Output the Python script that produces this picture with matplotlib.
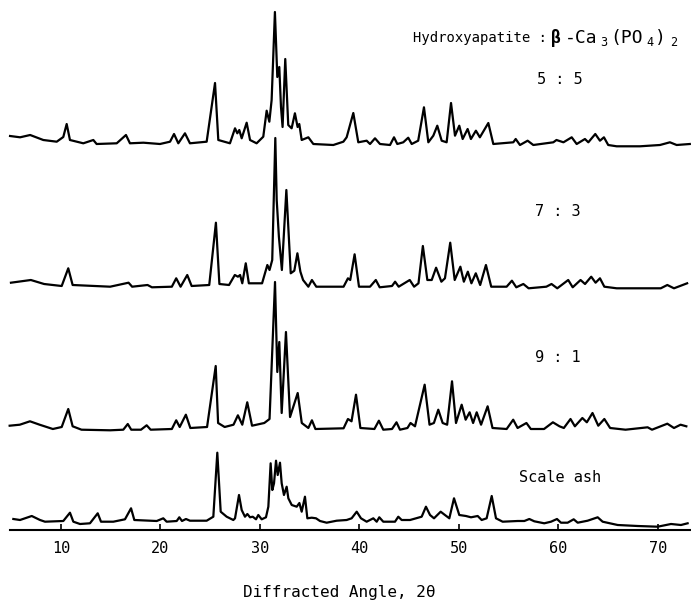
import matplotlib
matplotlib.use("Agg")
import matplotlib.pyplot as plt

# X-ray diffraction traces: angle (2theta, deg) and height above each trace's baseline
ang_55 = [4.88, 5.89, 6.90, 8.22, 9.57, 10.23, 10.57, 10.90, 12.24, 13.25, 13.58, 15.6, 16.53, 16.93, 18.28,
          19.95, 20.96, 21.36, 21.79, 22.46, 22.96, 24.64, 25.48, 25.81, 26.98, 27.49, 27.72, 27.92, 28.16, 28.66,
          29.0, 29.66, 30.33, 30.67, 30.94, 31.17, 31.5, 31.74, 31.94, 32.11, 32.27, 32.54, 32.84, 33.18, 33.51,
          33.78, 33.95, 34.19, 34.86, 35.36, 37.37, 38.38, 38.71, 39.38, 39.88, 40.72, 41.06, 41.56, 42.06, 43.07,
          43.47, 43.8, 44.4, 44.9, 45.25, 45.9, 46.48, 46.92, 47.42, 47.82, 48.26, 48.76, 49.2, 49.6, 50.03,
          50.37, 50.87, 51.2, 51.7, 52.1, 52.95, 53.45, 55.46, 55.7, 56.13, 56.9, 57.47, 59.48, 59.8, 60.5,
          61.33, 61.83, 62.66, 63.0, 63.7, 64.17, 64.57, 65.0, 65.85, 68.19, 70.2, 71.2, 71.88, 73.2]
int_55 = [9, 7.7, 10, 5, 3.3, 8, 21, 5, 1.7, 5, 1, 1.7, 10, 1.7, 2.3,
          1, 3.3, 11, 1.7, 11.7, 1.7, 3.3, 62, 5, 1.7, 16.7, 11.7, 15, 6.7, 22.3,
          5, 1.7, 8.3, 34.3, 23.3, 45, 133, 68, 78, 38, 18, 86, 20, 16.7, 31.7,
          18, 21, 5, 7.7, 1, 0, 3.3, 7.7, 32, 2.7, 4.3, 1, 6.7, 1, 0,
          7.7, 1, 2.7, 7.3, 1, 4.3, 37.7, 2.7, 9.3, 19.3, 4.3, 2.7, 42, 9.3, 19.3,
          6, 16, 6, 14.3, 7.7, 22, 1, 2.7, 6, 0, 4.3, 0, 2.7, 5, 2.7,
          7.7, 1, 6, 2.7, 11, 4.3, 7.7, 0, -1.3, -1.3, 0, 2.7, 0, 1]

ang_73 = [4.97, 6.97, 8.30, 10.07, 10.73, 11.17, 14.94, 16.79, 17.15, 18.70, 19.14, 21.14, 21.58, 22.02, 22.69,
          23.13, 24.90, 25.57, 25.92, 26.89, 27.47, 27.78, 28.0, 28.22, 28.57, 28.88, 30.21, 30.74, 30.96, 31.23,
          31.54, 31.68, 31.90, 32.20, 32.65, 33.09, 33.45, 33.76, 34.06, 34.33, 34.86, 35.22, 35.66, 38.40, 38.84,
          39.07, 39.51, 39.95, 41.06, 41.64, 42.03, 43.27, 43.58, 43.94, 45.05, 45.49, 45.93, 46.37, 46.82, 47.26,
          47.70, 48.23, 48.59, 49.12, 49.57, 50.14, 50.49, 50.89, 51.25, 51.69, 52.13, 52.71, 53.24, 54.79, 55.32,
          55.76, 56.47, 57.0, 58.78, 59.30, 59.88, 60.98, 61.43, 62.22, 62.67, 63.29, 63.73, 64.17, 64.61, 65.85,
          70.28, 70.94, 71.61, 72.93]
int_73 = [1.3, 4, 0, -2, 15.7, -1, -2.7, 1.3, -2.7, -1, -3.3, -2.7, 5.7, -2.7, 9,
          -2, -1, 61.3, 0, -1, 9, 7.3, 9, 0.7, 20.7, 0.7, 0.7, 19, 14, 24,
          146, 84, 47.3, 14, 94, 10.7, 13.3, 30.7, 12.3, 4, -2.7, 4, -2.7, -2.7, 5.7,
          4, 29.7, -2.7, -2.7, 4, -3.3, -2, 2.3, -2.7, 4, -2.7, 0.7, 38, 4, 4,
          16.3, 2.3, 5.7, 41.3, 4, 17.3, 2.3, 12.3, 0.7, 10.7, -1, 19, -2.7, -2.7, 3.3,
          -3.3, 0, -4.3, -2.7, 0, -4.3, 4, -3.3, 4, 0, 7.3, 1.3, 5.7, -2.7, -4.3,
          -4.3, -1, -4.3, 0.7]

ang_91 = [4.84, 5.86, 6.88, 7.85, 9.18, 10.07, 10.73, 11.17, 12.06, 14.94, 16.26, 16.71, 17.06, 18.04, 18.61,
          19.01, 21.14, 21.58, 21.93, 22.55, 23.0, 24.68, 25.55, 25.79, 26.45, 27.34, 27.78, 28.22, 28.72, 29.2,
          30.43, 30.96, 31.51, 31.74, 31.94, 32.18, 32.61, 33.02, 33.79, 34.2, 34.86, 35.22, 35.57, 38.40, 38.84,
          39.2, 39.65, 40.09, 41.5, 41.95, 42.39, 43.27, 43.72, 44.07, 44.82, 45.13, 45.58, 46.55, 47.04, 47.48,
          47.92, 48.36, 48.81, 49.3, 49.7, 50.27, 50.67, 51.07, 51.42, 51.78, 52.22, 52.88, 53.37, 54.79, 55.45,
          55.89, 56.78, 57.22, 58.55, 59.44, 60.1, 60.54, 61.21, 61.65, 62.4, 62.85, 63.42, 64.0, 64.61, 65.19,
          66.74, 68.96, 69.4, 70.94, 71.61, 72.27, 72.85]
int_91 = [3.3, 4.3, 7.7, 4.3, 0, 2, 20, 2.7, -0.7, -1.3, -0.7, 5, -0.7, -0.7, 3.7,
          -0.7, 0, 8.7, 2, 14.3, 1, 2, 63, 6, 2, 4.3, 13.7, 4.3, 26.7, 3.3,
          6, 10, 147, 57, 87, 16, 97, 12, 36, 6, 1, 8.7, 0, 0.7, 10,
          7.7, 34.3, 1, 0, 8.3, -0.7, 0, 6.7, -0.7, 1, 6, 2.7, 44.3, 4.3, 6,
          19.3, 6, 4.3, 47.7, 6, 24.3, 9.3, 16.7, 6, 16.7, 4.3, 22.7, 1, 0, 9.3,
          1, 6, 0, 0, 6.7, 2.7, 1, 10, 2.7, 11, 6.7, 16, 3.3, 10, 1,
          -0.7, 1.7, -0.7, 5.3, 1, 4.3, 2.7]

ang_ash = [5.21, 5.88, 7.06, 7.89, 8.39, 10.23, 10.9, 11.24, 11.91, 12.91, 13.69, 14.02, 15.26, 16.43, 17.04,
           17.37, 19.62, 20.28, 20.62, 21.63, 21.89, 22.16, 22.56, 22.96, 24.64, 25.31, 25.71, 26.05, 26.65, 27.32,
           27.49, 27.89, 28.16, 28.49, 28.73, 29.0, 29.27, 29.6, 29.83, 30.17, 30.6, 30.84, 31.07, 31.24, 31.41,
           31.61, 31.78, 32.01, 32.18, 32.41, 32.68, 32.85, 33.19, 33.69, 33.96, 34.19, 34.52, 34.76, 35.2, 35.63,
           36.03, 36.7, 37.71, 38.71, 39.21, 39.72, 40.15, 40.72, 41.39, 41.73, 41.99, 42.39, 43.57, 43.9, 44.24,
           45.08, 46.25, 46.68, 47.09, 47.49, 48.16, 48.59, 49.03, 49.5, 50.03, 50.7, 51.21, 51.88, 52.28, 52.78,
           53.29, 53.72, 54.39, 55.9, 56.57, 57.07, 57.57, 58.57, 59.25, 59.85, 60.25, 60.92, 61.53, 61.93, 62.93,
           63.94, 64.44, 65.95, 67.96, 69.97, 71.31, 72.31, 72.98]
int_ash = [2, 1, 5, 1, -0.7, 0, 8.3, -0.7, -3, -2.3, 7.7, -0.7, -0.7, 1.7, 12.7,
           1, 0, 2.7, -0.7, 0, 3.7, 0, 2, 0.3, 0.3, 4.3, 68.3, 9.3, 4.3, 1,
           2.7, 26, 11, 4.3, 7, 3.7, 4.3, 1.7, 6, 1.7, 3.7, 14.3, 57.7, 31, 37.7,
           60.3, 46, 58.3, 37.7, 26, 34.3, 22.7, 16, 14.3, 18, 9.3, 24.3, 2.7, 3.3, 2.7,
           0, -1.7, 0.3, 1, 2.7, 9.3, 2.7, -0.7, 2.7, -0.7, 3.7, -0.7, -0.7, 4.3, 1,
           1, 4.3, 14.3, 6, 2.7, 9.3, 6, 2.7, 22.7, 6, 5, 3.7, 5, 1, 2.7,
           25, 2.7, -0.7, 0, 0, 2, -0.3, -2.3, -0.7, 2, -1.7, -1.7, 1.7, -1.7, 0.3,
           3.7, -0.7, -4, -5, -5.7, -3, -4, -2.3]

tick_vals = [10, 20, 30, 40, 50, 60, 70]

W, H = 691, 603
mono = "DejaVu Sans Mono"

fig = plt.figure(figsize=(W / 100, H / 100), dpi=100)
ax = fig.add_axes([10 / W, 73 / H, 681 / W, 530 / H])

# vertical offsets of the stacked traces (same units as the heights)
traces = [(ang_55, int_55, 385), (ang_73, int_73, 246), (ang_91, int_91, 101), (ang_ash, int_ash, 9)]
for a, v, off in traces:
    ax.plot(a, [i + off for i in v], color="black", lw=1.6, solid_joinstyle="round", clip_on=False)

ax.set_xlim(4.874, 73.32)
ax.set_ylim(0, 530)
for s in ["top", "left", "right"]:
    ax.spines[s].set_visible(False)
ax.spines["bottom"].set_linewidth(1.5)
ax.set_yticks([])
ax.set_xticks(tick_vals)
ax.tick_params(axis="x", direction="in", length=4.5, width=1.2, pad=8, labelsize=11)
for lab in ax.get_xticklabels():
    lab.set_family(mono)


def put(x, y, s, size=11, **kw):
    # place text by pixel position of the reference picture (left edge, vertical centre)
    fig.text(x / W, 1 - y / H, s, fontsize=size, family=mono, va="center", ha=kw.pop("ha", "left"), **kw)


put(413, 38, "Hydroxyapatite :", size=10)
put(551, 38, "β", size=12, fontweight="bold")
put(565, 38, "-Ca", size=13)
put(600, 42, "3", size=8.5)
put(610, 38, "(PO", size=13)
put(646, 42, "4", size=8.5)
put(655, 38, ")", size=13)
put(670, 42, "2", size=8.5)

put(537, 79, "5 : 5")
put(535, 212, "7 : 3")
put(535, 358, "9 : 1")
put(519, 477, "Scale ash")
put(339, 592, "Diffracted Angle, 2θ", size=11.5, ha="center")

fig.savefig("out.png", dpi=100)
